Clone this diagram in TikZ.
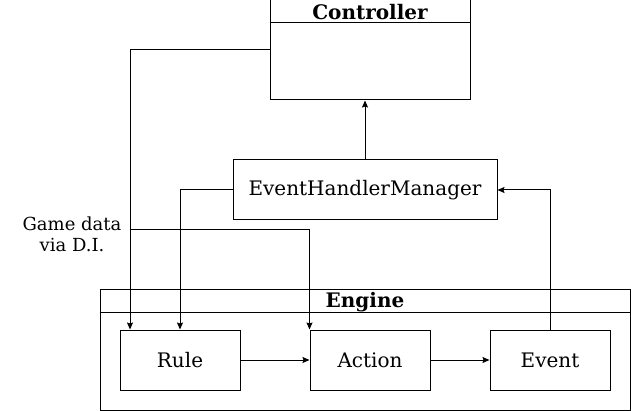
\documentclass[tikz,border=0pt]{standalone}
\usepackage{fontspec}
\setmainfont{DejaVu Serif}
\usepackage{tikz}
\usetikzlibrary{arrows.meta,calc,positioning}

\begin{document}
\begin{tikzpicture}[x=1pt,y=-1pt,line width=1pt,
    box/.style={draw,rectangle,minimum width=120pt,minimum height=60pt,font=\fontsize{20}{24}\selectfont},
    title/.style={font=\fontsize{20}{24}\selectfont\bfseries},
    conn/.style={-{Stealth[length=7pt,width=6pt,inset=1pt]}}]
        \useasboundingbox (0,0) rectangle (631,411);
        % Controller with its header
        \node[draw,minimum width=200pt,minimum height=100pt] (ctrl) at (370,50) {};
        \draw ($(ctrl.north west)+(0,23)$) -- ($(ctrl.north east)+(0,23)$);
        \node[title] (ctrltitle) at (370,12) {Controller};
        % Manager in the middle
        \node[box,minimum width=264pt] (ehm) at (365,190) {EventHandlerManager};
        % Engine with its header
        \node[draw,minimum width=530pt,minimum height=120pt] (engine) at (365,350) {};
        \draw ($(engine.north west)+(0,23)$) -- ($(engine.north east)+(0,23)$);
        \node[title] (enginetitle) at (365,302) {Engine};
        \node[box] (rule) at (180,360) {Rule};
        \node[box] (action) at (370,360) {Action};
        \node[box] (event) at (550,360) {Event};
        % Label for the injected data
        \node[align=center,font=\fontsize{18}{21}\selectfont,inner sep=0pt] (gamedata) at (72,234) {Game data\\via D.I.};
        \coordinate (gd) at (130,230);
        % Connectors
        \draw[conn] (ehm.north) -- (ehm.north |- ctrl.south);
        \draw[conn] (ctrl.west |- 0,50) -| (rule.north west -| 130,0);
        \draw[conn] (ehm.west) -| (rule.north west -| 180,0);
        \draw[conn] (gd) -| (action.north west);
        \draw[conn] (rule.east) -- (action.west);
        \draw[conn] (action.east) -- (event.west);
        \draw[conn] (event.north) |- (ehm.east);
      \end{tikzpicture}
\end{document}
